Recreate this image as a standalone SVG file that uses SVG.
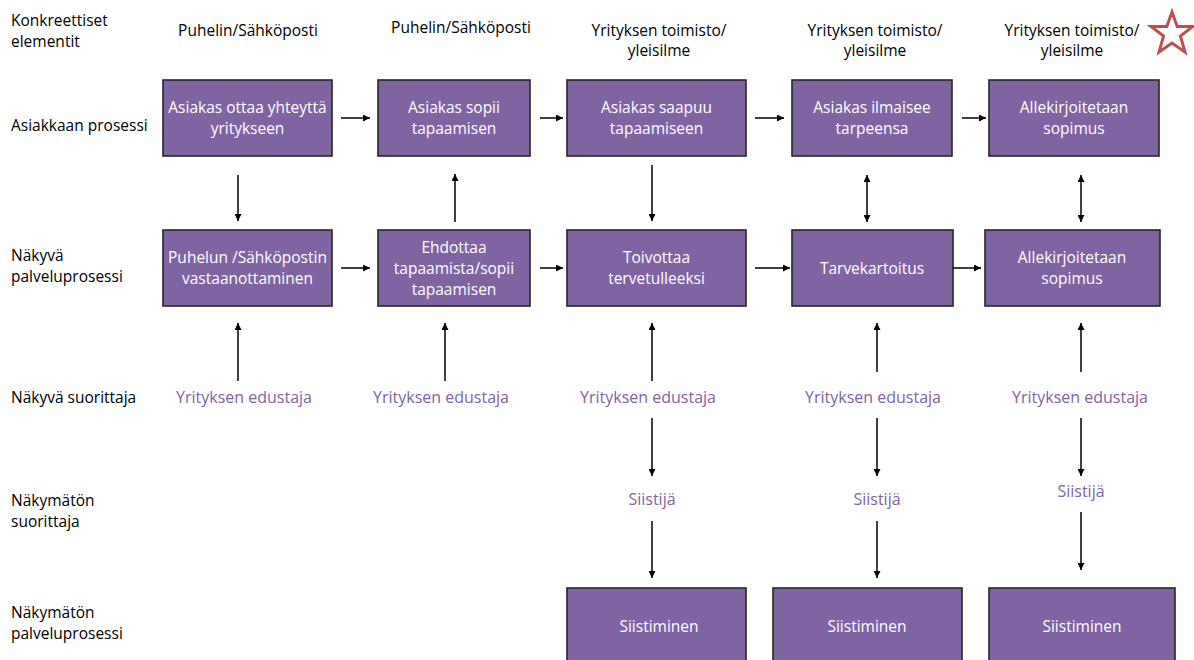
<svg xmlns="http://www.w3.org/2000/svg" width="1194" height="660" viewBox="0 0 1194 660">
<style>
.box{fill:#8064A2;stroke:#262626;stroke-width:1.6}
.bt{font-family:"Open Sans","Noto Sans",sans-serif;font-size:15.5px;fill:#fff;text-anchor:middle}
.lbl{font-family:"Open Sans","Noto Sans",sans-serif;font-size:15.5px;fill:#000}
.hd{font-family:"Open Sans","Noto Sans",sans-serif;font-size:15.5px;fill:#000;text-anchor:middle}
.pl{font-family:"Open Sans","Noto Sans",sans-serif;font-size:16px;fill:#8064A2;text-anchor:middle}
.c line{stroke:#000;stroke-width:1.5;marker-end:url(#ah)}
.c line.d{marker-start:url(#as)}
</style>
<defs>
<marker id="ah" viewBox="0 0 10 10" refX="10" refY="5" markerWidth="7" markerHeight="7" orient="auto" markerUnits="userSpaceOnUse"><path d="M0,0 L10,5 L0,10 z" fill="#000"/></marker>
<marker id="as" viewBox="0 0 10 10" refX="0" refY="5" markerWidth="7" markerHeight="7" orient="auto" markerUnits="userSpaceOnUse"><path d="M10,0 L0,5 L10,10 z" fill="#000"/></marker>
</defs>
<rect width="1194" height="660" fill="#fff"/>
<g id="row-labels">
<text class="lbl" x="11" y="26">Konkreettiset</text>
<text class="lbl" x="11" y="47">elementit</text>
<text class="lbl" x="11" y="131">Asiakkaan prosessi</text>
<text class="lbl" x="11" y="261">Näkyvä</text>
<text class="lbl" x="11" y="282">palveluprosessi</text>
<text class="lbl" x="11" y="403">Näkyvä suorittaja</text>
<text class="lbl" x="11" y="506">Näkymätön</text>
<text class="lbl" x="11" y="527">suorittaja</text>
<text class="lbl" x="11" y="618">Näkymätön</text>
<text class="lbl" x="11" y="639">palveluprosessi</text>
</g>
<g id="headers">
<text class="hd" x="248" y="36">Puhelin/Sähköposti</text>
<text class="hd" x="461" y="33">Puhelin/Sähköposti</text>
<text class="hd" x="659" y="36">Yrityksen toimisto/</text>
<text class="hd" x="659" y="56">yleisilme</text>
<text class="hd" x="875" y="36">Yrityksen toimisto/</text>
<text class="hd" x="875" y="56">yleisilme</text>
<text class="hd" x="1072" y="36">Yrityksen toimisto/</text>
<text class="hd" x="1072" y="56">yleisilme</text>
</g>
<g id="star"><polygon points="1172,12 1177.2,26.5 1193,26.5 1180.4,36 1185,52 1172,43 1159,52 1163.6,36 1151,26.5 1166.8,26.5" fill="none" stroke="#C0504D" stroke-width="3"/></g>
<g id="b1"><rect class="box" x="163" y="80" width="169" height="76"/><text class="bt" x="247.5" y="113">Asiakas ottaa yhteyttä</text><text class="bt" x="247.5" y="134">yritykseen</text></g>
<g id="b2"><rect class="box" x="378" y="80" width="152" height="76"/><text class="bt" x="454" y="113">Asiakas sopii</text><text class="bt" x="454" y="134">tapaamisen</text></g>
<g id="b3"><rect class="box" x="567" y="80" width="179" height="76"/><text class="bt" x="656.5" y="113">Asiakas saapuu</text><text class="bt" x="656.5" y="134">tapaamiseen</text></g>
<g id="b4"><rect class="box" x="792" y="80" width="160" height="76"/><text class="bt" x="872" y="113">Asiakas ilmaisee</text><text class="bt" x="872" y="134">tarpeensa</text></g>
<g id="b5"><rect class="box" x="989" y="80" width="170" height="76"/><text class="bt" x="1074" y="113">Allekirjoitetaan</text><text class="bt" x="1074" y="134">sopimus</text></g>
<g id="c1"><rect class="box" x="163" y="230" width="169" height="76"/><text class="bt" x="247.5" y="263">Puhelun /Sähköpostin</text><text class="bt" x="247.5" y="284">vastaanottaminen</text></g>
<g id="c2"><rect class="box" x="378" y="230" width="152" height="76"/><text class="bt" x="454" y="253">Ehdottaa</text><text class="bt" x="454" y="274">tapaamista/sopii</text><text class="bt" x="454" y="295">tapaamisen</text></g>
<g id="c3"><rect class="box" x="567" y="230" width="179" height="76"/><text class="bt" x="656.5" y="263">Toivottaa</text><text class="bt" x="656.5" y="284">tervetulleeksi</text></g>
<g id="c4"><rect class="box" x="792" y="230" width="161" height="76"/><text class="bt" x="872" y="274">Tarvekartoitus</text></g>
<g id="c5"><rect class="box" x="985" y="230" width="175" height="76"/><text class="bt" x="1072" y="263">Allekirjoitetaan</text><text class="bt" x="1072" y="284">sopimus</text></g>
<g id="d3"><rect class="box" x="567" y="588" width="179" height="80"/><text class="bt" x="659" y="632">Siistiminen</text></g>
<g id="d4"><rect class="box" x="773" y="588" width="189" height="80"/><text class="bt" x="867" y="632">Siistiminen</text></g>
<g id="d5"><rect class="box" x="989" y="588" width="186" height="80"/><text class="bt" x="1082" y="632">Siistiminen</text></g>
<g id="performers">
<text class="pl" x="244" y="403">Yrityksen edustaja</text>
<text class="pl" x="441" y="403">Yrityksen edustaja</text>
<text class="pl" x="648" y="403">Yrityksen edustaja</text>
<text class="pl" x="873" y="403">Yrityksen edustaja</text>
<text class="pl" x="1080" y="403">Yrityksen edustaja</text>
<text class="pl" x="652" y="505">Siistijä</text>
<text class="pl" x="877" y="505">Siistijä</text>
<text class="pl" x="1081" y="497">Siistijä</text>
</g>
<g id="connectors" class="c">
<line x1="341" y1="118" x2="370" y2="118"/>
<line x1="540" y1="118" x2="563" y2="118"/>
<line x1="755" y1="118" x2="784" y2="118"/>
<line x1="962" y1="118" x2="986" y2="118"/>
<line x1="341" y1="268" x2="370" y2="268"/>
<line x1="540" y1="268" x2="563" y2="268"/>
<line x1="755" y1="268" x2="790" y2="268"/>
<line x1="953" y1="268" x2="981" y2="268"/>
<line x1="238" y1="175" x2="238" y2="221"/>
<line x1="455" y1="222" x2="455" y2="174"/>
<line x1="652" y1="165" x2="652" y2="221"/>
<line class="d" x1="867" y1="175" x2="867" y2="222"/>
<line class="d" x1="1081" y1="175" x2="1081" y2="222"/>
<line x1="238" y1="381" x2="238" y2="323"/>
<line x1="445" y1="381" x2="445" y2="323"/>
<line x1="652" y1="381" x2="652" y2="323"/>
<line x1="877" y1="372" x2="877" y2="323"/>
<line x1="1081" y1="372" x2="1081" y2="323"/>
<line x1="652" y1="418" x2="652" y2="476"/>
<line x1="877" y1="418" x2="877" y2="476"/>
<line x1="1081" y1="418" x2="1081" y2="476"/>
<line x1="652" y1="521" x2="652" y2="578"/>
<line x1="877" y1="521" x2="877" y2="578"/>
<line x1="1081" y1="512" x2="1081" y2="570"/>
</g>
</svg>
